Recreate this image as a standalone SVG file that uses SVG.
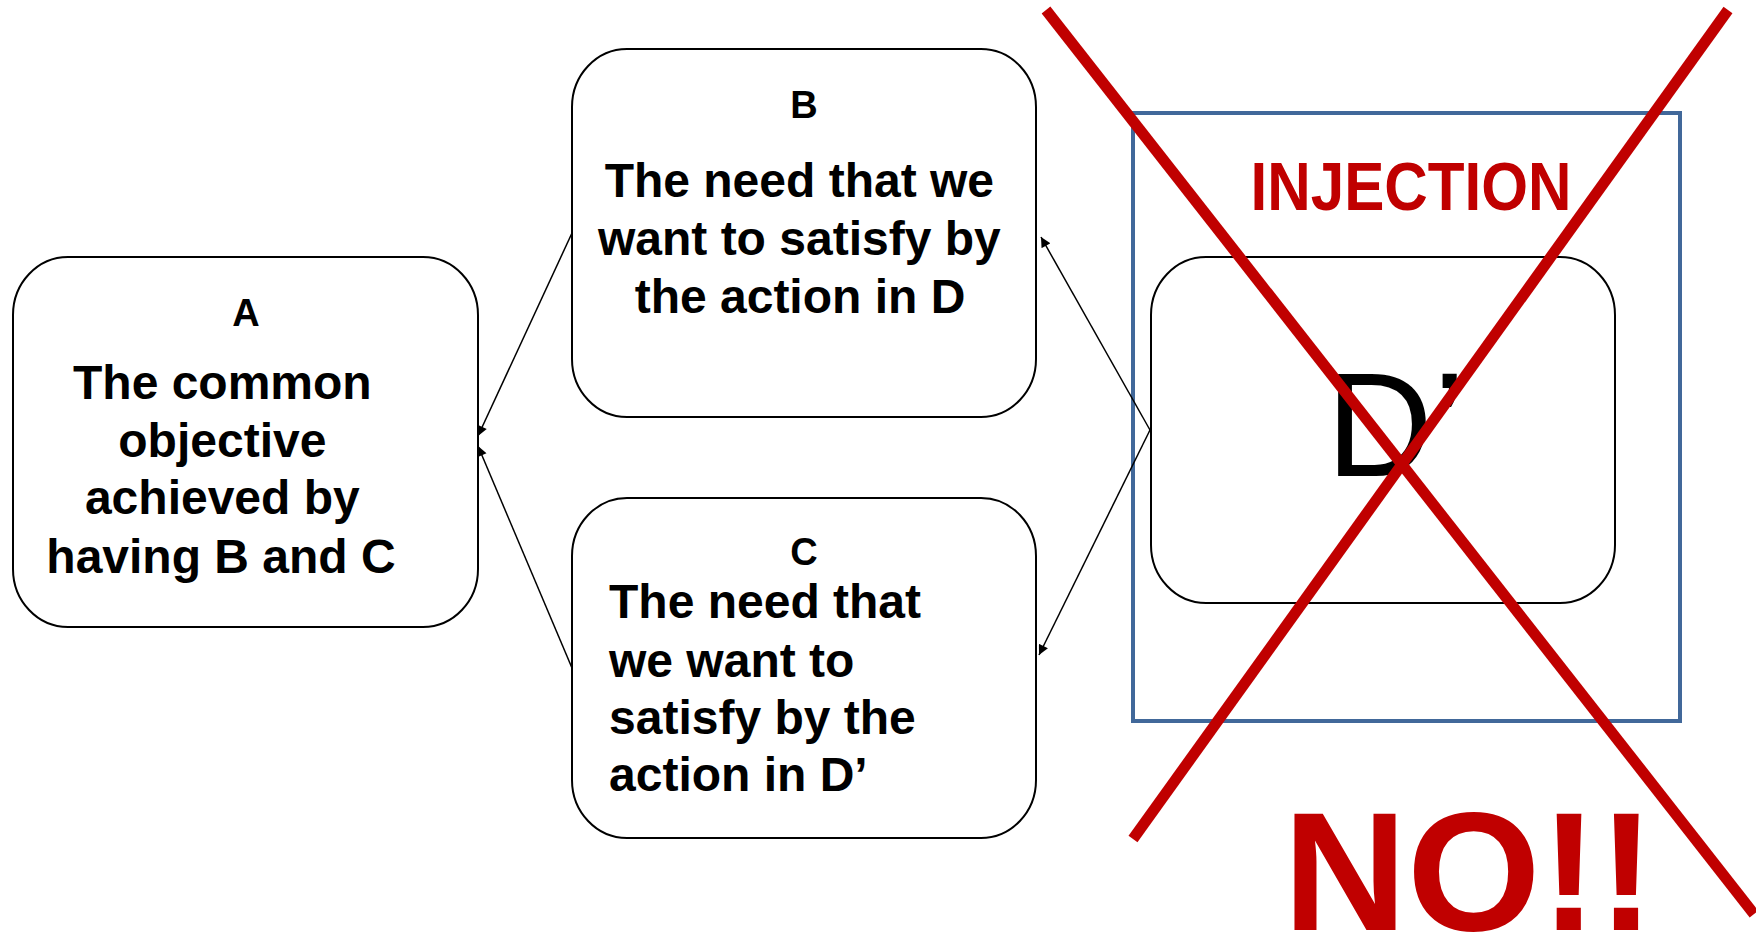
<svg xmlns="http://www.w3.org/2000/svg" width="1756" height="932" viewBox="0 0 1756 932">
<style>
.box{fill:#fff;stroke:#000;stroke-width:2}
.t{font-family:"Liberation Sans",Arial,sans-serif;font-weight:bold;fill:#000}
.big{font-size:48px}
.lbl{font-size:38px}
.conn{stroke:#000;stroke-width:1.5;fill:none;marker-end:url(#ah)}
.red{fill:#C00000;font-family:"Liberation Sans",Arial,sans-serif;font-weight:bold}
.x{stroke:#C00000;stroke-width:11;stroke-linecap:butt}
</style>
<defs>
<marker id="ah" viewBox="0 0 10 10" refX="10" refY="5" markerWidth="11" markerHeight="10" markerUnits="userSpaceOnUse" orient="auto">
<path d="M0,0 L10,5 L0,10 z" fill="#000"/>
</marker>
</defs>
<rect width="1756" height="932" fill="#fff"/>
<g id="injection-frame">
<rect x="1133" y="113" width="547" height="608" fill="none" stroke="#41689A" stroke-width="4"/>
<text class="red" x="1411" y="210" font-size="68" text-anchor="middle" textLength="321" lengthAdjust="spacingAndGlyphs">INJECTION</text>
</g>
<g id="nodeD">
<rect class="box" x="1151" y="257" width="464" height="346" rx="55" ry="58"/>
<text x="1326" y="476" font-family="Liberation Sans,Arial,sans-serif" font-size="148" fill="#000">D’</text>
</g>
<g id="nodeA">
<rect class="box" x="13" y="257" width="465" height="370" rx="55" ry="58"/>
<text class="t lbl" x="246" y="326" text-anchor="middle">A</text>
<text class="t big" text-anchor="middle">
<tspan x="229" y="399">The common</tspan>
<tspan x="229" y="457">objective</tspan>
<tspan x="229" y="514">achieved by</tspan>
<tspan x="221" y="573">having B and C</tspan>
</text>
</g>
<g id="nodeB">
<rect class="box" x="572" y="49" width="464" height="368" rx="55" ry="58"/>
<text class="t lbl" x="804" y="118" text-anchor="middle">B</text>
<text class="t big" text-anchor="middle">
<tspan x="806" y="197">The need that we</tspan>
<tspan x="806" y="255">want to satisfy by</tspan>
<tspan x="800" y="313">the action in D</tspan>
</text>
</g>
<g id="nodeC">
<rect class="box" x="572" y="498" width="464" height="340" rx="55" ry="58"/>
<text class="t lbl" x="804" y="565" text-anchor="middle">C</text>
<text class="t big">
<tspan x="609" y="618">The need that</tspan>
<tspan x="609" y="677">we want to</tspan>
<tspan x="609" y="734">satisfy by the</tspan>
<tspan x="609" y="791">action in D’</tspan>
</text>
</g>
<g id="connectors">
<line class="conn" x1="572" y1="233" x2="478" y2="436"/>
<line class="conn" x1="572" y1="668" x2="478" y2="446"/>
<line class="conn" x1="1150" y1="430" x2="1041" y2="237"/>
<line class="conn" x1="1150" y1="430" x2="1039" y2="655"/>
</g>
<g id="cross">
<line class="x" x1="1046" y1="10" x2="1754" y2="914"/>
<line class="x" x1="1728" y1="10" x2="1133" y2="839"/>
</g>
<g id="no">
<text class="red" x="1283" y="930" font-size="168" textLength="372" lengthAdjust="spacingAndGlyphs">NO!!</text>
</g>
</svg>
